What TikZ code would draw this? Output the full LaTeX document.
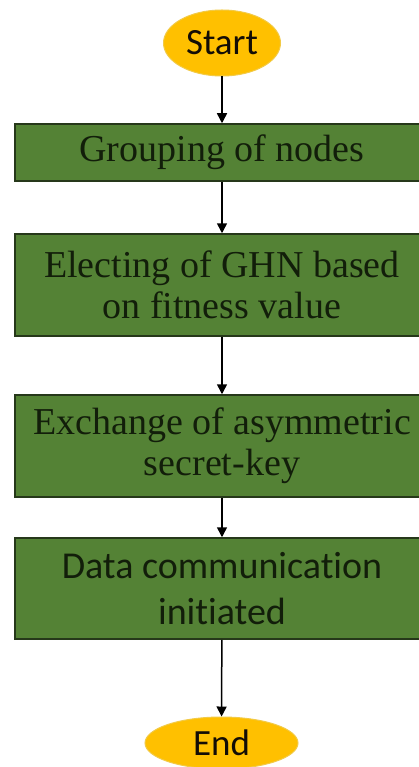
\documentclass[tikz,border=0pt]{standalone}
\usepackage{fontspec}
\setmainfont{Liberation Serif}
\newfontfamily\calibri{Carlito}[Ligatures=NoCommon]
\usetikzlibrary{shapes.geometric,arrows.meta}
\definecolor{boxgreen}{RGB}{84,130,53}
\definecolor{boxedge}{RGB}{38,56,26}
\definecolor{boxtext}{RGB}{18,30,10}
\definecolor{termyellow}{RGB}{255,192,0}
\definecolor{termedge}{RGB}{242,202,70}
\begin{document}
\begin{tikzpicture}[x=1pt,y=-1pt,
    >={Triangle[length=10pt,width=10pt]},
    terminal/.style={ellipse, fill=termyellow, draw=termedge, line width=1pt,
        inner sep=0pt, text=black!90!brown, font=\calibri\fontsize{37}{40}\selectfont},
    process/.style={rectangle, fill=boxgreen, draw=boxedge, line width=1.5pt,
        minimum width=414pt, inner sep=0pt, align=center, text=boxtext,
        font=\fontsize{38}{41}\selectfont},
    flow/.style={->, line width=1.5pt}]
    % Page frame
    \clip (0,0) rectangle (419,767);
    \fill[white] (0,0) rectangle (419,767);

    % Terminals
    \node[terminal, minimum width=117pt, minimum height=66pt] (start) at (222,43) {Start};
    \node[terminal, minimum width=153pt, minimum height=52pt] (end) at (221.5,743) {End};

    % Process boxes
    \node[process, minimum height=57pt] (group) at (222,152.5) {Grouping of nodes};
    \node[process, minimum height=102pt] (elect) at (222,285) {Electing of GHN based\\on fitness value};
    \node[process, minimum height=102pt] (keyx) at (222,446) {Exchange of asymmetric\\secret-key};
    \node[process, minimum height=101pt, font=\calibri\fontsize{38}{46}\selectfont] (data) at (222,588.5) {Data communication\\initiated};

    % Arrows between the steps
    \draw[flow] (start) -- (group);
    \draw[flow] (group) -- (elect);
    \draw[flow] (elect) -- (keyx);
    \draw[flow] (keyx) -- (data);
    \draw[flow] (data) -- (end);
\end{tikzpicture}
\end{document}
